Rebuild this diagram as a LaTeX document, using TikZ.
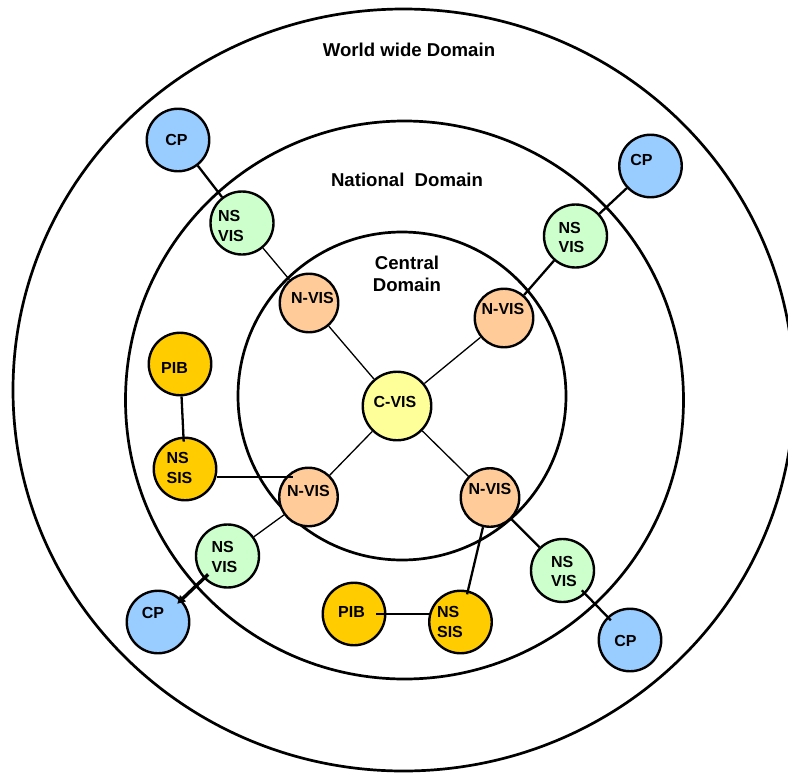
\documentclass[tikz,border=0pt]{standalone}
\usepackage{fontspec}
\setmainfont{Liberation Sans}
\usetikzlibrary{arrows.meta}
\definecolor{cpblue}{HTML}{99CCFF}
\definecolor{visgreen}{HTML}{CCFFCC}
\definecolor{nvispeach}{HTML}{FFCC99}
\definecolor{cvisyellow}{HTML}{FFFF99}
\definecolor{sisgold}{HTML}{FFCC00}

\begin{document}
\begin{tikzpicture}[x=1pt,y=-1pt,
  ring/.style={draw, line width=2.7pt},
  unit/.style={circle, draw, line width=2.4pt, inner sep=0pt, minimum size=62.5pt},
  cpnode/.style={unit, fill=cpblue},
  nsvisnode/.style={unit, fill=visgreen, minimum size=63pt},
  nvisnode/.style={unit, fill=nvispeach, minimum size=58.5pt},
  cvisnode/.style={unit, fill=cvisyellow, minimum size=68.5pt},
  sisnode/.style={unit, fill=sisgold},
  txt/.style={font=\fontsize{16}{19.5}\selectfont\bfseries, align=left, inner sep=0pt},
  domaintitle/.style={font=\fontsize{18.6}{22}\selectfont\bfseries, align=center, inner sep=0pt},
  thinlink/.style={line width=1.3pt},
  link/.style={line width=2.3pt},
  boldlink/.style={line width=3.4pt, -{Triangle[length=8pt,width=8pt]}},
]
\clip (0,0) rectangle (788,772);

% domain rings
\draw[ring] (403.5,390) ellipse [x radius=390.5pt, y radius=381pt];
\draw[ring] (404.5,400) circle [radius=279pt];
\draw[ring] (402,396) circle [radius=164pt];

% domain titles
\node[domaintitle] (world) at (409,50) {World wide Domain};
\node[domaintitle] (national) at (407,180) {National~~Domain};
\node[domaintitle] (central) at (407,274) {Central\\Domain};

% central node
\node[cvisnode, label={[txt, shift={(-2,-4)}]center:C-VIS}] (cvis) at (397,406) {};

% national nodes
\node[nvisnode, label={[txt, shift={(3.5,-5.5)}]center:N-VIS}] (nvis1) at (309,303) {};
\node[nvisnode, label={[txt, shift={(-1,-9)}]center:N-VIS}] (nvis2) at (504,318) {};
\node[nvisnode, label={[txt, shift={(0,-6)}]center:N-VIS}] (nvis3) at (308.5,497) {};
\node[nvisnode, label={[txt, shift={(0,-9)}]center:N-VIS}] (nvis4) at (490,497.5) {};

% national service nodes
\node[nsvisnode, label={[txt, shift={(-11,3)}]center:NS\\VIS}] (nsvis1) at (242,223) {};
\node[nsvisnode, label={[txt, shift={(-4,1.5)}]center:NS\\VIS}] (nsvis2) at (575.5,236) {};
\node[nsvisnode, label={[txt, shift={(-3,1)}]center:NS\\VIS}] (nsvis3) at (227.5,556) {};
\node[nsvisnode, label={[txt, shift={(1.5,1)}]center:NS\\VIS}] (nsvis4) at (562.5,570.5) {};

\node[sisnode, label={[txt, shift={(-5.5,3.5)}]center:PIB}] (pib1) at (180,364) {};
\node[sisnode, label={[txt, shift={(-5.5,-1)}]center:NS\\SIS}] (nssis1) at (185,469) {};
\node[sisnode, label={[txt, shift={(-2.5,-2)}]center:PIB}] (pib2) at (354,614) {};
\node[sisnode, label={[txt, shift={(-10.5,0)}]center:NS\\SIS}] (nssis2) at (460.5,622) {};

% world wide nodes
\node[cpnode, label={[txt, shift={(-1.5,-0.5)}]center:CP}] (cp1) at (178,140) {};
\node[cpnode, label={[txt, shift={(-9,-6)}]center:CP}] (cp2) at (650.5,166) {};
\node[cpnode, label={[txt, shift={(-5,-9.5)}]center:CP}] (cp3) at (158,622) {};
\node[cpnode, label={[txt, shift={(-4.5,1)}]center:CP}] (cp4) at (630,640) {};

% connectors
\draw[thinlink] (cvis) -- (nvis1);
\draw[thinlink] (cvis) -- (nvis2);
\draw[thinlink] (cvis) -- (nvis3);
\draw[thinlink] (cvis) -- (nvis4);
\draw[thinlink] (nvis1) -- (nsvis1);
\draw[link] (nsvis1) -- (cp1);
\draw[link] (nvis2) -- (nsvis2);
\draw[link] (nsvis2) -- (cp2);
\draw[thinlink] (nvis3) -- (nsvis3);
\draw[boldlink, shorten <=-6pt, shorten >=-6pt] (nsvis3) -- (cp3);
\draw[link] (nvis4) -- (nsvis4);
\draw[link, shorten <=-5pt, shorten >=-5pt] (nsvis4) -- (cp4);
\draw[link, shorten >=-4pt] (nvis4) -- (nssis2);
\draw[link, shorten >=-5pt] (pib1) -- (nssis1);
\coordinate (nvis3in) at (293,477);
\draw[link] ([yshift=-8pt]nssis1.east) -- (nvis3in);
\draw[link, shorten <=-10pt, shorten >=-3pt] (pib2) -- (pib2 -| nssis2.west);
\end{tikzpicture}
\end{document}
